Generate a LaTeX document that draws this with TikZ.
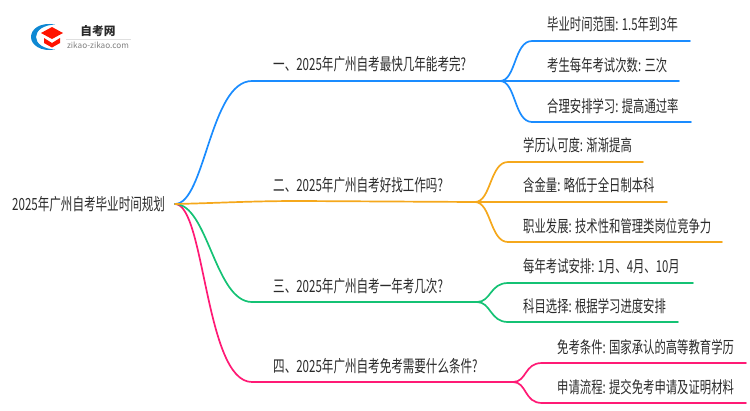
\documentclass[tikz,border=0pt]{standalone}
\usepackage{fontspec}
\setmainfont[FakeStretch=0.69]{Noto Sans CJK SC}
\newfontfamily\logofont{Noto Sans CJK SC}
\usetikzlibrary{positioning}
\definecolor{lineblue}{HTML}{1A8CFF}
\definecolor{lineorange}{HTML}{F5A81C}
\definecolor{linegreen}{HTML}{14C274}
\definecolor{linepink}{HTML}{FF1A75}
\definecolor{inkgrey}{HTML}{2A2A2A}

\begin{document}
\begin{tikzpicture}[x=1pt,y=-1pt,
    topicnode/.style = {anchor=west, inner sep=0pt, text=inkgrey, font=\fontsize{16.75}{18}\selectfont},
    leafnode/.style = {anchor=west, inner sep=0pt, text=inkgrey, font=\fontsize{16.45}{18}\selectfont},
    branch/.style = {line width=1.7pt, line cap=round}]
\useasboundingbox (0,0) rectangle (750,410);

% logo
\fill[cyan!70!blue] (55,24.5) .. controls (40,22) and (31,29) .. (31,37) .. controls (31,45) and (41,52) .. (55,49.5) .. controls (44,49) and (36,44) .. (36,37) .. controls (36,30) and (44,25) .. (55,24.5);
\fill[red!85!orange] (41,33) -- (52,27) -- (63,33) -- (52,39) -- cycle;
\fill[red!85!orange] (44,38) -- (52,43) -- (60,38) -- (60,43) -- (52,47.5) -- (44,43) -- cycle;
\node[inner sep=0pt, text=inkgrey, font=\logofont\fontsize{11.7}{12}\selectfont\bfseries] (logotitle) at (98,31) {自考网};
\node[inner sep=0pt, text=gray, font=\logofont\fontsize{8.2}{9}\selectfont] (logourl) at (98,45) {zikao-zikao.com};
\draw[gray!25, line width=0.5pt] (66,39) -- (131,39);

% texts
\node[topicnode] (root) at (12,204) {2025年广州自考毕业时间规划};
\node[topicnode] (q1) at (273,64) {一、2025年广州自考最快几年能考完?};
\node[topicnode] (q2) at (273,185) {二、2025年广州自考好找工作吗?};
\node[topicnode] (q3) at (273,286) {三、2025年广州自考一年考几次?};
\node[topicnode] (q4) at (273,366) {四、2025年广州自考免考需要什么条件?};
\node[leafnode] (a1) at (547,24) {毕业时间范围: 1.5年到3年};
\node[leafnode] (a2) at (547,65) {考生每年考试次数: 三次};
\node[leafnode] (a3) at (547,106) {合理安排学习: 提高通过率};
\node[leafnode] (b1) at (523,145) {学历认可度: 渐渐提高};
\node[leafnode] (b2) at (523,185) {含金量: 略低于全日制本科};
\node[leafnode] (b3) at (523,226) {职业发展: 技术性和管理类岗位竞争力};
\node[leafnode] (c1) at (523,266) {每年考试安排: 1月、4月、10月};
\node[leafnode] (c2) at (523,306) {科目选择: 根据学习进度安排};
\node[leafnode] (d1) at (557,347) {免考条件: 国家承认的高等教育学历};
\node[leafnode] (d2) at (557,387) {申请流程: 提交免考申请及证明材料};

% forks and line ends
\coordinate (start) at (175,204);
\coordinate (fork1) at (500,81);
\coordinate (fork2) at (475,202);
\coordinate (fork3) at (477,302);
\coordinate (fork4) at (513,382);
\coordinate (end1) at (690,41);
\coordinate (end2) at (679,81);
\coordinate (end3) at (691,122);
\coordinate (end4) at (643,162);
\coordinate (end5) at (667,202);
\coordinate (end6) at (722,242);
\coordinate (end7) at (693,283);
\coordinate (end8) at (678,322);
\coordinate (end9) at (746,363);
\coordinate (end10) at (746,403);

% pink
\draw[branch, linepink] (start) .. controls (205,204) and (205,382) .. (252,382) -- (fork4);
\draw[branch, linepink] (fork4) .. controls +(14,0) and +(-18,0) .. (542,363) -- (end9);
\draw[branch, linepink] (fork4) .. controls +(14,0) and +(-18,0) .. (542,403) -- (end10);
% green
\draw[branch, linegreen] (start) .. controls (208,204) and (215,302) .. (252,302) -- (fork3);
\draw[branch, linegreen] (fork3) .. controls +(14,0) and +(-18,0) .. (508,283) -- (end7);
\draw[branch, linegreen] (fork3) .. controls +(14,0) and +(-18,0) .. (508,322) -- (end8);
% blue
\draw[branch, lineblue] (start) .. controls (205,204) and (210,81) .. (252,81) -- (fork1);
\draw[branch, lineblue] (fork1) .. controls +(16,0) and +(-18,0) .. (532,41) -- (end1);
\draw[branch, lineblue] (fork1) -- (end2);
\draw[branch, lineblue] (fork1) .. controls +(16,0) and +(-18,0) .. (532,122) -- (end3);
% orange
\draw[branch, lineorange] (start) .. controls (220,203) and (250,201) .. (300,201) -- (fork2);
\draw[branch, lineorange] (fork2) .. controls +(16,0) and +(-18,0) .. (508,162) -- (end4);
\draw[branch, lineorange] (fork2) -- (end5);
\draw[branch, lineorange] (fork2) .. controls +(16,0) and +(-18,0) .. (508,242) -- (end6);
\end{tikzpicture}
\end{document}
